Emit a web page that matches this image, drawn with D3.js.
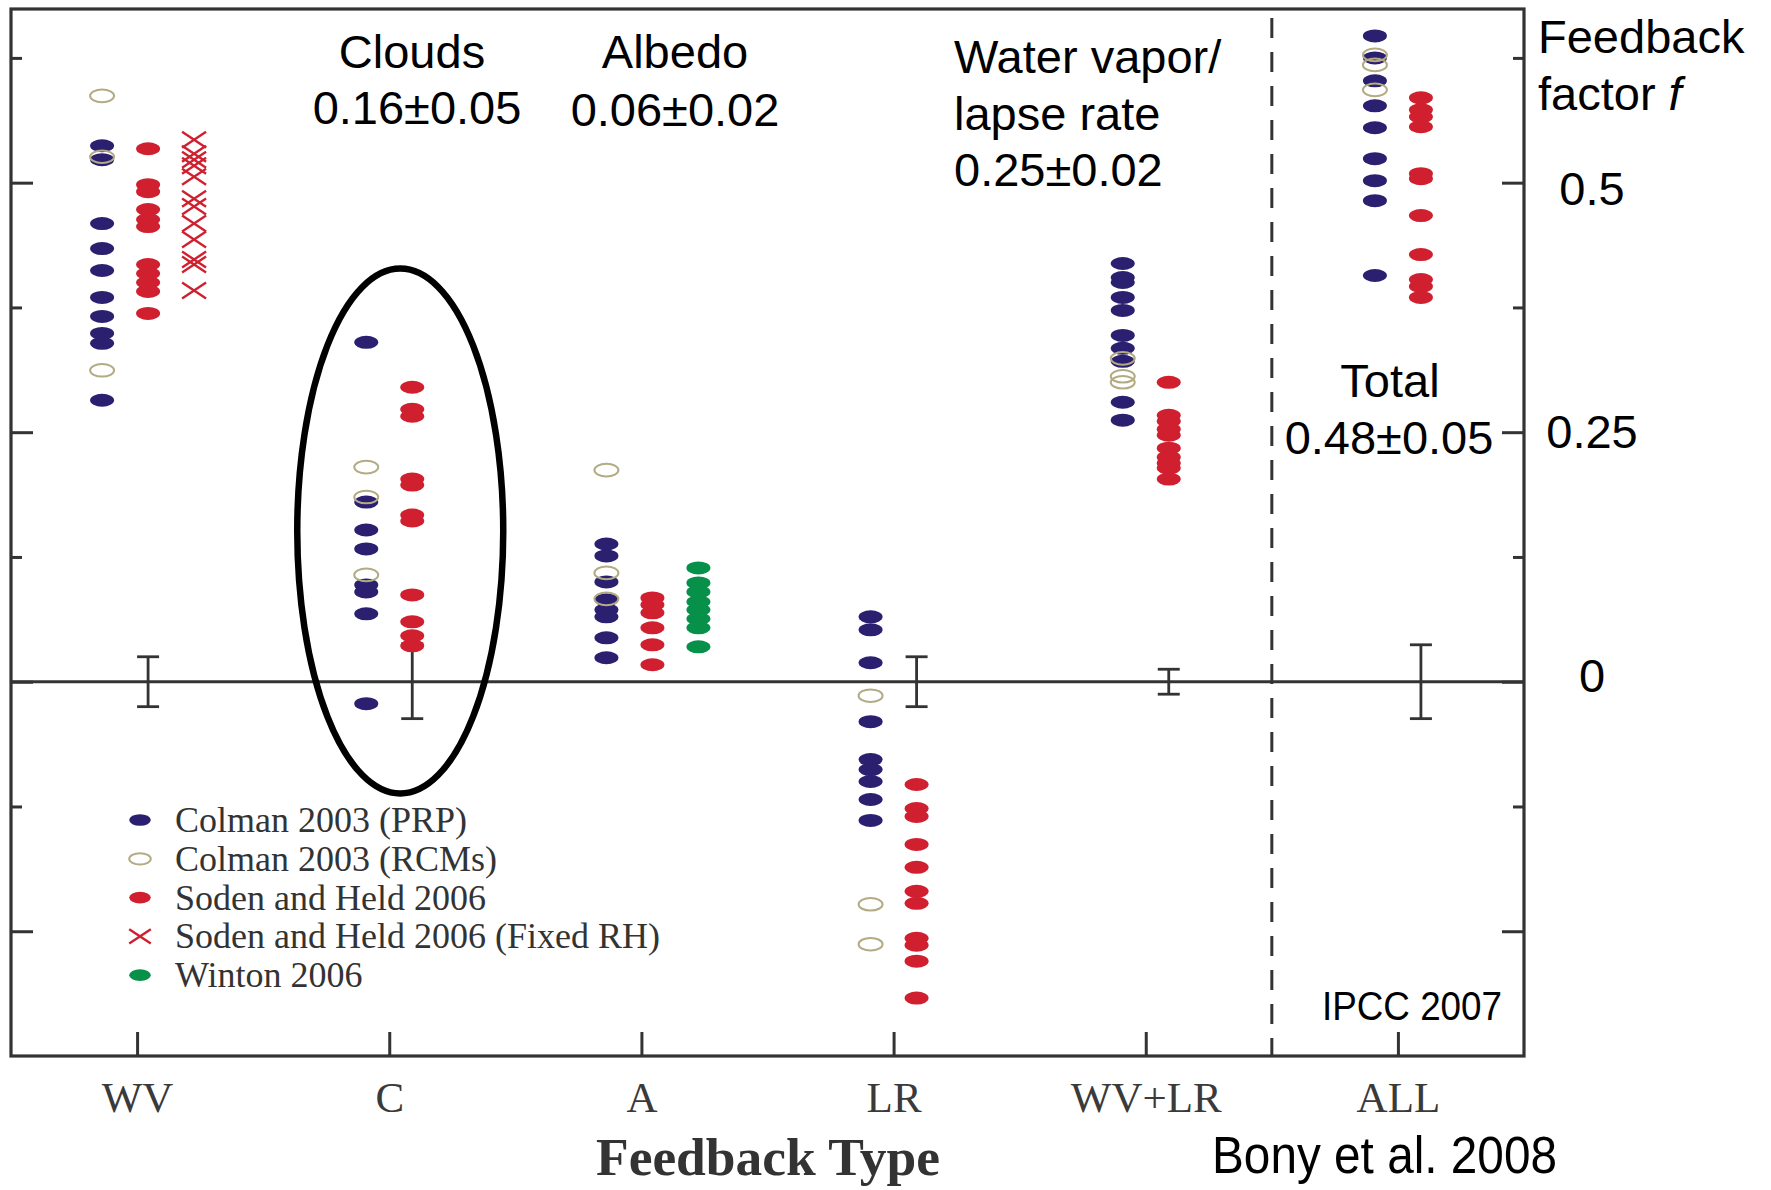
<!DOCTYPE html>
<html>
<head>
<meta charset="utf-8">
<script src="https://cdn.jsdelivr.net/npm/d3@7"></script>
<style>
    body { margin: 0; background: #fff; }
    svg { display: block; }
</style>
</head>
<body>
<div id="feedback-vis"></div>
<script>

// feedback types along the x axis
const categories = ["WV", "C", "A", "LR", "WV+LR", "ALL"];

// feedback factor values, one list per feedback type (same order as categories)
const colmanPRP = [
    [0.537, 0.523, 0.459, 0.434, 0.412, 0.385, 0.366, 0.349, 0.339, 0.282],
    [0.340, 0.180, 0.152, 0.133, 0.097, 0.090, 0.068, -0.022],
    [0.138, 0.126, 0.100, 0.082, 0.072, 0.065, 0.044, 0.024],
    [0.065, 0.052, 0.019, -0.040, -0.078, -0.088, -0.100, -0.118, -0.139],
    [0.419, 0.405, 0.400, 0.385, 0.372, 0.347, 0.334, 0.321, 0.280, 0.262],
    [0.647, 0.625, 0.602, 0.577, 0.555, 0.524, 0.502, 0.482, 0.407]
];

const colmanRCM = [
    [0.587, 0.526, 0.312],
    [0.215, 0.185, 0.107],
    [0.212, 0.109, 0.083],
    [-0.014, -0.223, -0.263],
    [0.324, 0.306, 0.300],
    [0.628, 0.618, 0.593]
];

const sodenHeld = [
    [0.534, 0.498, 0.491, 0.473, 0.463, 0.456, 0.418, 0.409, 0.400, 0.391, 0.369],
    [0.295, 0.273, 0.266, 0.203, 0.197, 0.167, 0.161, 0.087, 0.060, 0.046, 0.036],
    [0.084, 0.077, 0.069, 0.054, 0.037, 0.017],
    [-0.103, -0.127, -0.135, -0.163, -0.186, -0.210, -0.222, -0.257, -0.264, -0.280, -0.317],
    [0.300, 0.267, 0.261, 0.253, 0.247, 0.234, 0.225, 0.219, 0.214, 0.203],
    [0.585, 0.573, 0.566, 0.556, 0.509, 0.504, 0.467, 0.428, 0.403, 0.396, 0.385]
];

const sodenHeldFixedRH = [
    [0.543, 0.529, 0.523, 0.517, 0.506, 0.484, 0.476, 0.459, 0.443, 0.423, 0.418, 0.392],
    [], [], [], [], []
];

const winton = [
    [], [],
    [0.114, 0.099, 0.090, 0.080, 0.072, 0.063, 0.054, 0.035],
    [], [], []
];

// error bars (drawn on the Soden & Held column)
const errLow  = [-0.025, -0.037, null, -0.025, -0.0125, -0.037];
const errHigh = [ 0.025,  0.038, null,  0.025,  0.0125,  0.037];

// y ticks (long ticks on multiples of 0.25) and labels on the right
const yTicksMajor = [-0.25, 0, 0.25, 0.5];
const yTicksMinor = [-0.125, 0.125, 0.375, 0.625];
const yLabels = [0.5, 0.25, 0];

const legendNames = ["Colman 2003 (PRP)", "Colman 2003 (RCMs)", "Soden and Held 2006",
    "Soden and Held 2006 (Fixed RH)", "Winton 2006"];

// span of the hand drawn ring around the cloud column
const cloudsHighlight = [-0.112, 0.414];


class FeedbackChart {

    constructor(_parentElement) {
        this.parentElement = _parentElement;
        this.initVis();
    }

    initVis() {
        let vis = this;

        vis.width = 1771;
        vis.height = 1190;
        vis.frame = {left: 11, right: 1524, top: 9, bottom: 1056};

        vis.colors = {blue: "#2b1f70", red: "#d0202f", green: "#07904a", olive: "#b3ab83", axis: "#333"};

        vis.svg = d3.select("#" + vis.parentElement).append("svg")
            .attr("width", vis.width)
            .attr("height", vis.height);

        vis.x = d3.scalePoint()
            .domain(categories)
            .range([vis.frame.left, vis.frame.right])
            .padding(0.5);

        vis.y = d3.scaleLinear()
            .domain([-0.375, 0.674])
            .range([vis.frame.bottom, vis.frame.top]);

        // ticks pointing into the plot on both sides
        let tickSets = [[yTicksMajor, 22], [yTicksMinor, 11]];
        tickSets.forEach(([vals, len]) => {
            vis.svg.append("g")
                .attr("class", "axis")
                .attr("transform", `translate(${vis.frame.left},0)`)
                .call(d3.axisLeft(vis.y).tickValues(vals).tickSize(-len).tickSizeOuter(0).tickFormat(""));
            vis.svg.append("g")
                .attr("class", "axis")
                .attr("transform", `translate(${vis.frame.right},0)`)
                .call(d3.axisRight(vis.y).tickValues(vals).tickSize(-len).tickSizeOuter(0).tickFormat(""));
        });

        // bottom axis, ticks up, serif labels
        vis.svg.append("g")
            .attr("class", "axis x-axis")
            .attr("transform", `translate(0,${vis.frame.bottom})`)
            .call(d3.axisBottom(vis.x).tickSize(-24).tickSizeOuter(0).tickPadding(25));

        vis.svg.selectAll(".axis .domain").remove();
        vis.svg.selectAll(".axis line")
            .attr("stroke", vis.colors.axis)
            .attr("stroke-width", 3);
        vis.svg.selectAll(".x-axis text")
            .attr("font-family", "'Liberation Serif', 'Times New Roman', serif")
            .attr("font-size", 43)
            .attr("fill", "#3a3a3a");

        // frame
        vis.svg.append("rect")
            .attr("x", vis.frame.left)
            .attr("y", vis.frame.top)
            .attr("width", vis.frame.right - vis.frame.left)
            .attr("height", vis.frame.bottom - vis.frame.top)
            .attr("fill", "none")
            .attr("stroke", vis.colors.axis)
            .attr("stroke-width", 3.2);

        // zero line
        vis.svg.append("line")
            .attr("x1", vis.frame.left).attr("x2", vis.frame.right)
            .attr("y1", vis.y(0)).attr("y2", vis.y(0))
            .attr("stroke", vis.colors.axis)
            .attr("stroke-width", 3);

        // dashed separator before ALL
        let sepX = (vis.x("WV+LR") + vis.x("ALL")) / 2;
        vis.svg.append("line")
            .attr("x1", sepX).attr("x2", sepX)
            .attr("y1", vis.frame.top + 9).attr("y2", vis.frame.bottom)
            .attr("stroke", vis.colors.axis)
            .attr("stroke-width", 3)
            .attr("stroke-dasharray", "20,14");

        vis.wrangleData();
    }

    wrangleData() {
        let vis = this;

        vis.points = [];
        vis.bars = [];

        categories.forEach((c, i) => {
            // columns present in this category
            let cols = ["prp", "sh"];
            if (sodenHeldFixedRH[i].length) cols.push("rh");
            if (winton[i].length) cols.push("win");
            let n = cols.length;
            let shift = n === 3 ? 11 : 0;
            let colX = key => vis.x(c) + (cols.indexOf(key) - (n - 1) / 2) * 46 + shift;

            sodenHeld[i].forEach(v => vis.points.push({type: "sh", x: colX("sh"), v: v}));
            sodenHeldFixedRH[i].forEach(v => vis.points.push({type: "rh", x: colX("rh"), v: v}));
            winton[i].forEach(v => vis.points.push({type: "win", x: colX("win"), v: v}));
            colmanPRP[i].forEach(v => vis.points.push({type: "prp", x: colX("prp"), v: v}));
            colmanRCM[i].forEach(v => vis.points.push({type: "rcm", x: colX("prp"), v: v}));

            if (errLow[i] !== null) {
                vis.bars.push({x: colX("sh"), lo: errLow[i], hi: errHigh[i]});
            }
        });

        vis.updateVis();
    }

    updateVis() {
        let vis = this;

        // error bars
        let eb = vis.svg.append("g").attr("class", "errorbars")
            .selectAll("g").data(vis.bars).enter().append("g")
            .attr("stroke", "#333")
            .attr("stroke-width", 2.8);
        eb.append("line")
            .attr("x1", d => d.x).attr("x2", d => d.x)
            .attr("y1", d => vis.y(d.hi)).attr("y2", d => vis.y(d.lo));
        eb.append("line")
            .attr("x1", d => d.x - 11).attr("x2", d => d.x + 11)
            .attr("y1", d => vis.y(d.hi)).attr("y2", d => vis.y(d.hi));
        eb.append("line")
            .attr("x1", d => d.x - 11).attr("x2", d => d.x + 11)
            .attr("y1", d => vis.y(d.lo)).attr("y2", d => vis.y(d.lo));

        // markers
        let marks = vis.svg.append("g").attr("class", "marks");
        vis.points.forEach(d => {
            vis.drawMarker(marks, d.type, d.x, vis.y(d.v), 1);
        });

        // ring around the cloud feedback column
        vis.svg.append("ellipse")
            .attr("cx", vis.x("C") + 11)
            .attr("cy", (vis.y(cloudsHighlight[0]) + vis.y(cloudsHighlight[1])) / 2)
            .attr("rx", 103)
            .attr("ry", (vis.y(cloudsHighlight[0]) - vis.y(cloudsHighlight[1])) / 2)
            .attr("fill", "none")
            .attr("stroke", "#000")
            .attr("stroke-width", 6.5);

        // legend
        let types = ["prp", "rcm", "sh", "rh", "win"];
        let legend = vis.svg.append("g").attr("class", "legend");
        legendNames.forEach((name, i) => {
            let cy = 820 + i * 38.8;
            vis.drawMarker(legend, types[i], 140, cy, 0.9);
            legend.append("text")
                .attr("x", 175)
                .attr("y", cy + 12)
                .attr("font-family", "'Liberation Serif', 'Times New Roman', serif")
                .attr("font-size", 36)
                .attr("fill", "#333")
                .text(name);
        });

        // annotations
        let sans = "'Liberation Sans', Arial, sans-serif";
        let ann = vis.svg.append("g").attr("class", "annotations")
            .attr("font-family", sans)
            .attr("font-size", 47)
            .attr("fill", "#000");

        let centered = [
            ["Clouds", 412, 68], ["0.16±0.05", 417, 124],
            ["Albedo", 675, 68], ["0.06±0.02", 675, 126],
            ["Total", 1390, 397], ["0.48±0.05", 1389, 454]
        ];
        centered.forEach(([t, x, y]) => {
            ann.append("text").attr("x", x).attr("y", y).attr("text-anchor", "middle").text(t);
        });

        [["Water vapor/", 73], ["lapse rate", 130], ["0.25±0.02", 186]].forEach(([t, y]) => {
            ann.append("text").attr("x", 954).attr("y", y).text(t);
        });

        ann.append("text").attr("x", 1538).attr("y", 53).text("Feedback");
        let ff = ann.append("text").attr("x", 1538).attr("y", 110);
        ff.append("tspan").text("factor ");
        ff.append("tspan").attr("font-style", "italic").text("f");

        // right hand labels sit a little lower the higher they are
        yLabels.forEach(v => {
            ann.append("text")
                .attr("x", 1592)
                .attr("y", vis.y(v) + 10 + 24 * v)
                .attr("text-anchor", "middle")
                .text(v);
        });

        ann.append("text")
            .attr("x", 1322).attr("y", 1020)
            .attr("font-size", 40)
            .attr("textLength", 180)
            .attr("lengthAdjust", "spacingAndGlyphs")
            .text("IPCC 2007");

        ann.append("text")
            .attr("x", 1212).attr("y", 1173)
            .attr("font-size", 51)
            .attr("textLength", 345)
            .attr("lengthAdjust", "spacingAndGlyphs")
            .text("Bony et al. 2008");

        // axis title
        vis.svg.append("text")
            .attr("x", 596)
            .attr("y", 1175)
            .attr("font-family", "'Liberation Serif', 'Times New Roman', serif")
            .attr("font-weight", "bold")
            .attr("font-size", 52)
            .attr("textLength", 344)
            .attr("lengthAdjust", "spacingAndGlyphs")
            .attr("fill", "#333")
            .text("Feedback Type");
    }

    drawMarker(g, type, x, y, k) {
        let vis = this;
        if (type === "rh") {
            g.append("path")
                .attr("d", `M${x - 12 * k},${y - 8 * k}L${x + 12 * k},${y + 8 * k}M${x - 12 * k},${y + 8 * k}L${x + 12 * k},${y - 8 * k}`)
                .attr("stroke", vis.colors.red)
                .attr("stroke-width", 2.4)
                .attr("fill", "none");
        } else if (type === "rcm") {
            g.append("ellipse")
                .attr("cx", x).attr("cy", y)
                .attr("rx", 12 * k).attr("ry", 6.3 * k)
                .attr("fill", "none")
                .attr("stroke", vis.colors.olive)
                .attr("stroke-width", 2);
        } else {
            let fill = type === "prp" ? vis.colors.blue : type === "sh" ? vis.colors.red : vis.colors.green;
            g.append("ellipse")
                .attr("cx", x).attr("cy", y)
                .attr("rx", 12 * k).attr("ry", 6.5 * k)
                .attr("fill", fill);
        }
    }
}

let feedbackChart = new FeedbackChart("feedback-vis");

</script>
</body>
</html>
